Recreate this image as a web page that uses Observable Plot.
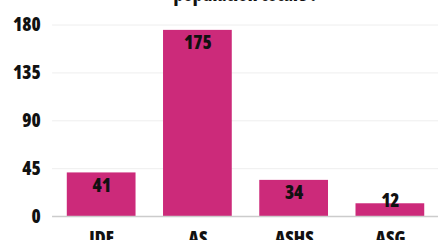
<!DOCTYPE html>
<html><head><meta charset="utf-8">
<script src="https://cdn.jsdelivr.net/npm/d3@7"></script>
<script src="https://cdn.jsdelivr.net/npm/@observablehq/plot@0.6"></script>
<style>
html,body{margin:0;padding:0;background:#fff;overflow:hidden;width:438px;height:244px}
svg text{font-family:'Open Sans',sans-serif;font-stretch:condensed;font-weight:800}
</style></head><body>
<div id="chart"></div>
<script>
const categories = ["IDE", "AS", "ASHS", "ASG"];
const values = [41, 175, 34, 12];
const yTicks = [0, 45, 90, 135, 180];
const titleText = "population totale ?";

const data = categories.map((c, i) => ({cat: c, value: values[i]}));

const chart = Plot.plot({
  width: 446, height: 244,
  marginLeft: 53, marginRight: 0, marginTop: 25, marginBottom: 24,
  style: {fontFamily: "'Open Sans', sans-serif", fontWeight: 800, fontSize: "19px", color: "#111", background: "#fff"},
  x: {domain: categories, paddingInner: 0.29, paddingOuter: 0.15, label: null, tickSize: 0, tickPadding: 15},
  y: {domain: [0, 180], ticks: yTicks, label: null, tickSize: 0, tickPadding: 12},
  marks: [
    Plot.gridY(yTicks, {stroke: "#eee", strokeOpacity: 1}),
    Plot.barY(data, {x: "cat", y: "value", fill: "#cc2a7a"}),
    Plot.ruleY([0], {stroke: "#ccc", strokeWidth: 1.5}),
    Plot.text(data, {x: "cat", y: d => Math.max(d.value, 27), text: d => String(d.value), dy: 13, fontSize: 19, fill: "#111", fontWeight: 800}),
    Plot.text([titleText], {frameAnchor: "top", text: d => d, dy: -24, lineAnchor: "bottom", fontSize: 19, fontWeight: 800, fill: "#111"})
  ]
});
document.getElementById("chart").appendChild(chart);
</script></body></html>
